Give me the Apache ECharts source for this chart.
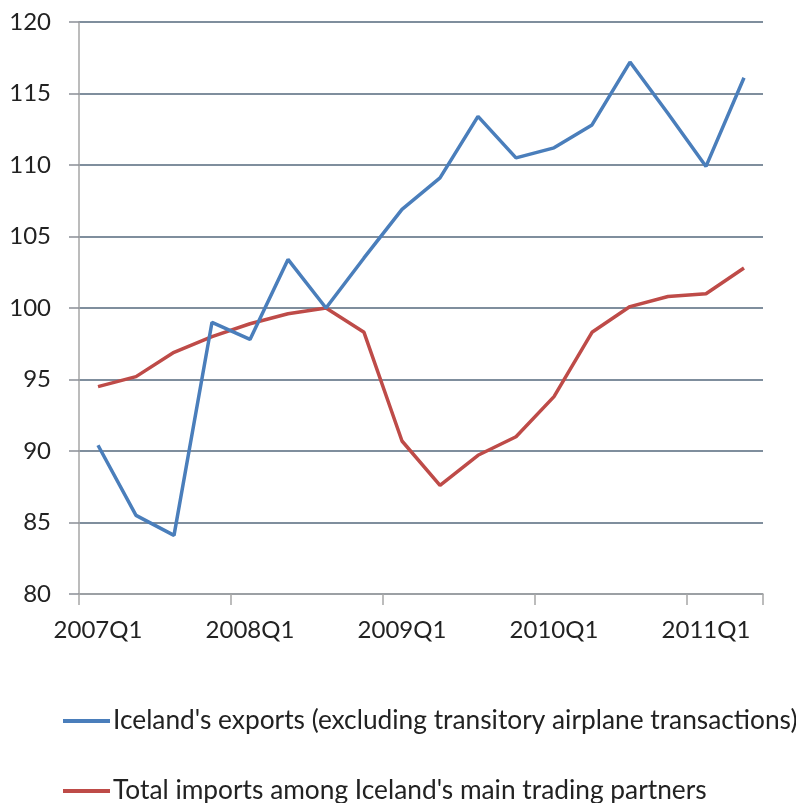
<!DOCTYPE html>
<html>
<head>
<meta charset="utf-8">
<title>Iceland exports vs trading partner imports</title>
<script src="https://cdn.jsdelivr.net/npm/echarts@6/dist/echarts.min.js"></script>
<style>
  html, body { margin: 0; padding: 0; background: #ffffff; }
  #chart { width: 796px; height: 803px; }
</style>
</head>
<body>
<div id="chart"></div>
<script>
// Quarterly index values (2008Q3 = 100)
const quarters = [
  '2007Q1', '2007Q2', '2007Q3', '2007Q4',
  '2008Q1', '2008Q2', '2008Q3', '2008Q4',
  '2009Q1', '2009Q2', '2009Q3', '2009Q4',
  '2010Q1', '2010Q2', '2010Q3', '2010Q4',
  '2011Q1', '2011Q2'
];
const exportsName = "Iceland's exports (excluding transitory airplane transactions)";
const importsName = "Total imports among Iceland's main trading partners";
const exportsIndex = [
  90.4, 85.5, 84.1, 99.0, 97.8, 103.4, 100.0, 103.5,
  106.9, 109.1, 113.4, 110.5, 111.2, 112.8, 117.2, 113.6,
  109.9, 116.1
];
const importsIndex = [
  94.5, 95.2, 96.9, 98.0, 98.9, 99.6, 100.0, 98.3,
  90.7, 87.6, 89.7, 91.0, 93.8, 98.3, 100.1, 100.8,
  101.0, 102.8
];
const yMin = 80, yMax = 120, yStep = 5;

const FONT = 'Lato';
const chart = echarts.init(document.getElementById('chart'), null, { renderer: 'canvas' });

// one legend row per series, stacked under the plot
function legendRow(name, top) {
  return {
    orient: 'horizontal',
    left: 58,
    top: top,
    itemWidth: 47,
    itemHeight: 4,
    icon: 'rect',
    textStyle: {
      fontFamily: FONT,
      fontSize: 26.3,
      lineHeight: 32,
      color: '#222222',
      padding: [0, 0, 0, -2]
    },
    data: [name]
  };
}

chart.setOption({
  animation: false,
  backgroundColor: '#ffffff',
  textStyle: { fontFamily: FONT },
  grid: { left: 79, right: 33, top: 22, bottom: 209, containLabel: false },
  xAxis: {
    type: 'category',
    data: quarters,
    boundaryGap: true,
    axisLine: { show: true, lineStyle: { color: '#a6a6a6', width: 1.5 } },
    axisTick: {
      show: true,
      interval: 3,
      length: 11,
      lineStyle: { color: '#a6a6a6', width: 1.5 }
    },
    axisLabel: {
      interval: 3,
      margin: 24,
      color: '#222222',
      fontFamily: FONT,
      fontSize: 24
    },
    splitLine: { show: false }
  },
  yAxis: {
    type: 'value',
    min: yMin,
    max: yMax,
    interval: yStep,
    axisLine: { show: true, lineStyle: { color: '#a6a6a6', width: 1.5 } },
    axisTick: { show: true, length: 10, lineStyle: { color: '#8a8f96', width: 1.5 } },
    axisLabel: {
      margin: 28,
      color: '#222222',
      fontFamily: FONT,
      fontSize: 24
    },
    splitLine: { show: true, lineStyle: { color: '#55697c', width: 1.5 } }
  },
  legend: [
    legendRow(exportsName, 700),
    legendRow(importsName, 770)
  ],
  series: [
    {
      name: exportsName,
      type: 'line',
      data: exportsIndex,
      symbol: 'none',
      lineStyle: { color: '#4a7ebb', width: 3.5 },
      itemStyle: { color: '#4a7ebb' },
      z: 3
    },
    {
      name: importsName,
      type: 'line',
      data: importsIndex,
      symbol: 'none',
      lineStyle: { color: '#be4b48', width: 3.5 },
      itemStyle: { color: '#be4b48' },
      z: 2
    }
  ]
});
</script>
</body>
</html>
